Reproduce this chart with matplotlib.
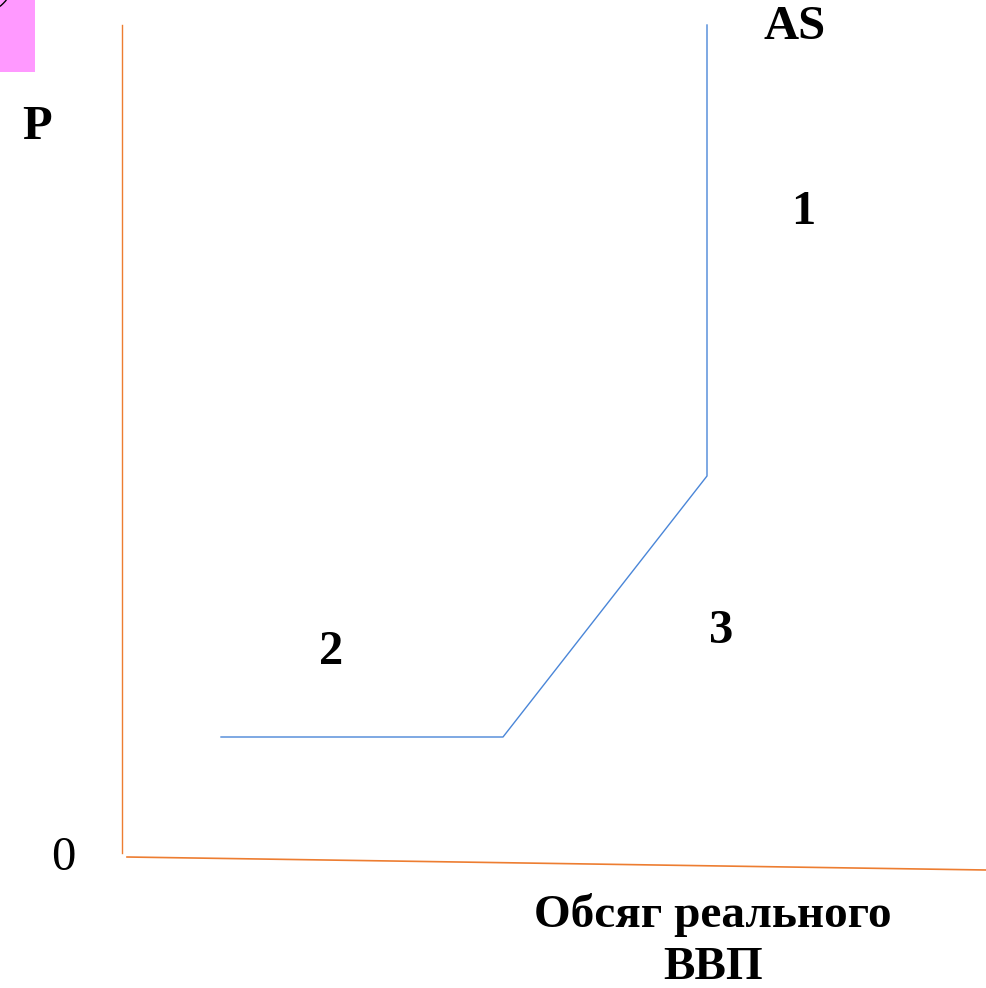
import numpy as np
import matplotlib.pyplot as plt
from matplotlib.patches import Rectangle, Arc

# крива сукупної пропозиції AS (у координатах малюнка, пікселі)
as_x = [221, 503, 707, 707]
as_y = [737, 737, 476, 25]

# осі
vert_x = [122, 122]
vert_y = [25, 853]
hor_x = [127, 986]
hor_y = [857, 870]

# підписи: текст, x, y
labels = [('P', 37, 127), ('AS', 795, 27), ('1', 803, 212),
          ('2', 331, 652), ('3', 721, 631)]

fig = plt.figure(figsize=(9.86, 9.88), dpi=100)
ax = fig.add_axes([0, 0, 1, 1])
ax.set_xlim(0, 986)
ax.set_ylim(988, 0)
ax.axis('off')

ax.plot(vert_x, vert_y, color='#ED7D31', lw=1)
ax.plot(hor_x, hor_y, color='#ED7D31', lw=1.2)
ax.plot(as_x, as_y, color='#4a86d8', lw=1)

# рожевий прямокутник у куті
ax.add_patch(Rectangle((0, 0), 35, 72, color='#FF99FF', lw=0))
ax.add_patch(Arc((-20, -20), 66, 66, theta1=0, theta2=360, color='black', lw=1))

for t, x, y in labels:
    ax.text(x, y, t, fontsize=35, fontweight='bold', family='Liberation Serif',
            ha='center', va='center')

ax.text(63, 858, '0', fontsize=35, family='Liberation Serif', ha='center', va='center')
ax.text(713, 915, 'Обсяг реального', fontsize=34, fontweight='bold',
        family='Liberation Serif', ha='center', va='center')
ax.text(713, 968, 'ВВП', fontsize=34, fontweight='bold',
        family='Liberation Serif', ha='center', va='center')

plt.savefig('out.png', dpi=100)
